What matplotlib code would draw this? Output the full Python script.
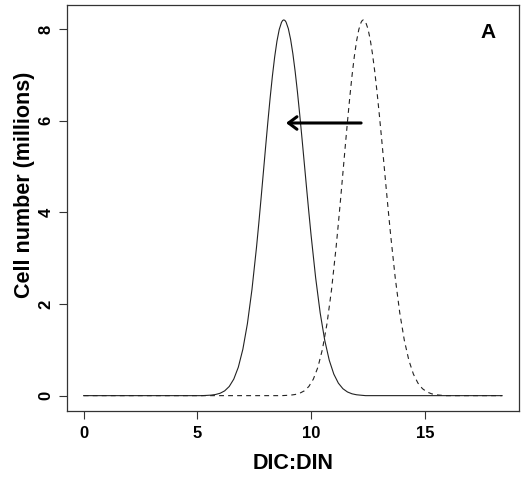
import matplotlib
matplotlib.use("Agg")
import matplotlib.pyplot as plt

plt.rcParams['font.family'] = ['Liberation Sans', 'DejaVu Sans']
plt.rcParams['lines.scale_dashes'] = False

# cell-number distribution after (solid) and before (dashed) the shift in DIC:DIN
solid_x = [0.0, 5.2, 5.4, 5.6, 5.8, 6.0, 6.2, 6.4, 6.6, 6.8, 7.0, 7.2, 7.4, 7.6, 7.7,
           7.8, 7.9, 8.0, 8.1, 8.2, 8.3, 8.4, 8.5, 8.6, 8.7, 8.75, 8.8, 8.85, 8.9,
           9.0, 9.1, 9.2, 9.3, 9.4, 9.5, 9.6, 9.7, 9.8, 9.9, 10.0, 10.2, 10.4, 10.6,
           10.8, 11.0, 11.2, 11.4, 11.6, 11.8, 12.0, 12.2, 12.4, 18.4]
dashed_x = [0.0, 8.7, 8.9, 9.1, 9.3, 9.5, 9.7, 9.9, 10.1, 10.3, 10.5, 10.7, 10.9,
            11.1, 11.2, 11.3, 11.4, 11.5, 11.6, 11.7, 11.8, 11.9, 12.0, 12.1, 12.2,
            12.25, 12.3, 12.35, 12.4, 12.5, 12.6, 12.7, 12.8, 12.9, 13.0, 13.1,
            13.2, 13.3, 13.4, 13.5, 13.7, 13.9, 14.1, 14.3, 14.5, 14.7, 14.9, 15.1,
            15.3, 15.5, 15.7, 15.9, 18.4]

# both distributions have the same profile (millions of cells)
solid_y = [0.0, 0.0, 0.005, 0.011, 0.025, 0.052, 0.104, 0.199, 0.360, 0.620, 1.012,
           1.570, 2.314, 3.236, 3.755, 4.300, 4.861, 5.424, 5.976, 6.499, 6.978,
           7.395, 7.737, 7.991, 8.147, 8.187, 8.200, 8.188, 8.152, 8.009, 7.775,
           7.460, 7.074, 6.630, 6.139, 5.619, 5.082, 4.543, 4.012, 3.503, 2.577,
           1.807, 1.210, 0.772, 0.470, 0.273, 0.151, 0.080, 0.040, 0.019, 0.009,
           0.0, 0.0]
dashed_y = [0.0, 0.0, 0.005, 0.011, 0.025, 0.052, 0.104, 0.199, 0.360, 0.620, 1.012,
            1.570, 2.314, 3.236, 3.755, 4.300, 4.861, 5.424, 5.976, 6.499, 6.978,
            7.395, 7.737, 7.991, 8.147, 8.187, 8.200, 8.188, 8.152, 8.009, 7.775,
            7.460, 7.074, 6.630, 6.139, 5.619, 5.082, 4.543, 4.012, 3.503, 2.577,
            1.807, 1.210, 0.772, 0.470, 0.273, 0.151, 0.080, 0.040, 0.019, 0.009,
            0.0, 0.0]

arrow_start = (12.2, 5.95)
arrow_end = (8.9, 5.95)

x_ticks = [0, 5, 10, 15]
y_ticks = [0, 2, 4, 6, 8]

fig = plt.figure(figsize=(5.23, 4.86), dpi=100)
ax = fig.add_axes([0.128, 0.155, 0.864, 0.835])

ax.plot(solid_x, solid_y, color='#222222', lw=0.8)
ax.plot(dashed_x, dashed_y, color='#222222', lw=0.8, dashes=(3.5, 3))

ax.annotate('', xy=arrow_end, xytext=arrow_start,
            arrowprops=dict(arrowstyle='->,head_length=0.6,head_width=0.45',
                            lw=2.2, color='black', mutation_scale=10,
                            shrinkA=0, shrinkB=0))

ax.text(0.931, 0.931, 'A', transform=ax.transAxes, fontsize=15,
        fontweight='bold', ha='center', va='center')

# R-style axes: 4% padding around the data range
ax.set_xlim(-0.736, 19.136)
ax.set_ylim(-0.328, 8.528)
ax.set_xticks(x_ticks)
ax.set_yticks(y_ticks)
ax.tick_params(axis='both', length=6, width=0.8, color='#333333', labelsize=12)
ax.tick_params(axis='x', pad=5)
ax.tick_params(axis='y', pad=3.5)
for lab in ax.get_xticklabels():
    lab.set_fontweight('bold')
for lab in ax.get_yticklabels():
    lab.set_fontweight('bold')
    lab.set_rotation(90)
    lab.set_va('center')
for sp in ax.spines.values():
    sp.set_linewidth(0.9)
    sp.set_color('#333333')

ax.set_xlabel('DIC:DIN', fontsize=15.5, fontweight='bold', labelpad=9)
ax.set_ylabel('Cell number (millions)', fontsize=15.5, fontweight='bold',
              labelpad=3, y=0.556)

fig.savefig('out.png', dpi=100)
